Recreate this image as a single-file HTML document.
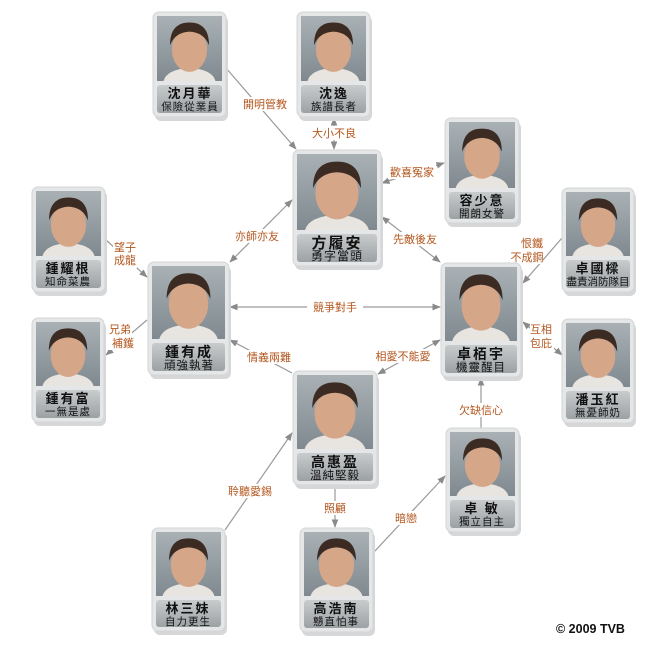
<!DOCTYPE html>
<html><head><meta charset="utf-8"><style>
html,body{margin:0;padding:0;background:#fff;}
svg{display:block;}
text{font-family:"Liberation Sans","Noto Sans CJK TC",sans-serif;}
.n{font-size:13px;font-weight:bold;fill:#111;text-anchor:middle;letter-spacing:2px}
.s{font-size:10.5px;fill:#111;text-anchor:middle;letter-spacing:1px}
.l{font-size:11px;fill:#b4561e;text-anchor:middle}
.ln{stroke:#9a9a9a;stroke-width:1.2;fill:none}
</style></head><body>
<svg width="665" height="650" viewBox="0 0 665 650" xmlns="http://www.w3.org/2000/svg">
<defs>
<marker id="a" viewBox="0 0 10 10" refX="9" refY="5" markerWidth="7" markerHeight="7" orient="auto-start-reverse"><path d="M0,1 L10,5 L0,9 z" fill="#8a8a8a"/></marker>
<linearGradient id="ng" x1="0" y1="0" x2="0" y2="1"><stop offset="0" stop-color="#c9cccd"/><stop offset="1" stop-color="#9ca1a4"/></linearGradient>
<linearGradient id="bg" x1="0" y1="0" x2="0" y2="1"><stop offset="0" stop-color="#a9b1b5"/><stop offset="1" stop-color="#7f898f"/></linearGradient>
<symbol id="ph" viewBox="0 0 100 100" preserveAspectRatio="none">
<rect width="100" height="100" fill="url(#bg)"/>
<path d="M10,100 Q15,82 50,80 Q85,82 90,100z" fill="#e8e4df"/>
<ellipse cx="50" cy="52" rx="27" ry="34" fill="#d6a689"/>
<path d="M20,45 Q20,10 50,10 Q80,10 80,45 Q72,25 50,24 Q28,25 20,45z" fill="#3b2b22"/>
</symbol>
</defs>

<!-- connectors -->
<line class="ln" x1="226" y1="68" x2="296" y2="149" marker-end="url(#a)"/>
<line class="ln" x1="334" y1="118" x2="334" y2="149" marker-start="url(#a)" marker-end="url(#a)"/>
<line class="ln" x1="382" y1="183" x2="444" y2="163" marker-start="url(#a)" marker-end="url(#a)"/>
<line class="ln" x1="382" y1="217" x2="440" y2="262" marker-start="url(#a)" marker-end="url(#a)"/>
<line class="ln" x1="292" y1="200" x2="230" y2="262" marker-start="url(#a)" marker-end="url(#a)"/>
<line class="ln" x1="106" y1="240" x2="147" y2="277" marker-end="url(#a)"/>
<line class="ln" x1="147" y1="320" x2="106" y2="355" marker-end="url(#a)"/>
<line class="ln" x1="230" y1="307" x2="440" y2="307" marker-start="url(#a)" marker-end="url(#a)"/>
<line class="ln" x1="562" y1="238" x2="523" y2="283" marker-end="url(#a)"/>
<line class="ln" x1="523" y1="322" x2="562" y2="355" marker-start="url(#a)" marker-end="url(#a)"/>
<line class="ln" x1="292" y1="373" x2="230" y2="340" marker-end="url(#a)"/>
<line class="ln" x1="378" y1="374" x2="440" y2="340" marker-start="url(#a)" marker-end="url(#a)"/>
<line class="ln" x1="481" y1="428" x2="481" y2="378" marker-end="url(#a)"/>
<line class="ln" x1="225" y1="530" x2="292" y2="433" marker-end="url(#a)"/>
<line class="ln" x1="335" y1="486" x2="335" y2="527" marker-end="url(#a)"/>
<line class="ln" x1="374" y1="552" x2="445" y2="476" marker-end="url(#a)"/>

<!-- labels -->
<g>
<rect x="240" y="97" width="50" height="14" fill="#fff"/><text class="l" x="265" y="108">開明管教</text>
<rect x="310" y="126" width="48" height="14" fill="#fff"/><text class="l" x="334" y="137">大小不良</text>
<rect x="388" y="165" width="48" height="14" fill="#fff"/><text class="l" x="412" y="176">歡喜冤家</text>
<rect x="391" y="232" width="48" height="14" fill="#fff"/><text class="l" x="415" y="243">先敵後友</text>
<rect x="233" y="229" width="48" height="14" fill="#fff"/><text class="l" x="257" y="240">亦師亦友</text>
<rect x="113" y="240" width="24" height="28" fill="#fff"/><text class="l" x="125" y="251">望子</text><text class="l" x="125" y="264">成龍</text>
<rect x="108" y="322" width="24" height="28" fill="#fff"/><text class="l" x="120" y="333">兄弟</text><text class="l" x="123" y="347">補鑊</text>
<rect x="307" y="300" width="56" height="14" fill="#fff"/><text class="l" x="335" y="311">競爭對手</text>
<rect x="519" y="236" width="24" height="28" fill="#fff"/><text class="l" x="532" y="247">恨鐵</text><text class="l" x="527" y="261">不成鋼</text>
<rect x="530" y="323" width="24" height="28" fill="#fff"/><text class="l" x="541" y="333">互相</text><text class="l" x="541" y="347">包庇</text>
<rect x="245" y="350" width="48" height="14" fill="#fff"/><text class="l" x="269" y="361">情義兩難</text>
<rect x="377" y="349" width="56" height="14" fill="#fff"/><text class="l" x="403" y="360">相愛不能愛</text>
<rect x="458" y="403" width="48" height="14" fill="#fff"/><text class="l" x="481" y="414">欠缺信心</text>
<rect x="226" y="484" width="48" height="14" fill="#fff"/><text class="l" x="250" y="495">聆聽愛錫</text>
<rect x="321" y="501" width="28" height="14" fill="#fff"/><text class="l" x="335" y="512">照顧</text>
<rect x="393" y="511" width="28" height="14" fill="#fff"/><text class="l" x="406" y="522">暗戀</text>
</g>

<!-- cards -->
<g>
<!-- 1 -->
<rect x="155" y="16" width="73" height="105" rx="6" fill="#d5d7d8"/>
<rect x="153" y="12" width="73" height="105" rx="6" fill="#e4e6e7" stroke="#d3d5d6"/>
<use href="#ph" x="157" y="16" width="65" height="65"/>
<rect x="157" y="85" width="65" height="28" rx="3" fill="url(#ng)"/>
<text class="n" x="190" y="98">沈月華</text><text class="s" x="190" y="110">保險從業員</text>
<!-- 2 -->
<rect x="299" y="16" width="73" height="105" rx="6" fill="#d5d7d8"/>
<rect x="297" y="12" width="73" height="105" rx="6" fill="#e4e6e7" stroke="#d3d5d6"/>
<use href="#ph" x="301" y="16" width="65" height="65"/>
<rect x="301" y="85" width="65" height="28" rx="3" fill="url(#ng)"/>
<text class="n" x="334" y="98">沈逸</text><text class="s" x="334" y="110">族譜長者</text>
<!-- 3 -->
<rect x="295" y="154" width="88" height="116" rx="6" fill="#d5d7d8"/>
<rect x="293" y="150" width="88" height="116" rx="6" fill="#e4e6e7" stroke="#d3d5d6"/>
<use href="#ph" x="297" y="154" width="80" height="76"/>
<rect x="297" y="234" width="80" height="28" rx="3" fill="url(#ng)"/>
<text class="n" x="337" y="248" style="font-size:15px">方履安</text><text class="s" x="337" y="260" style="font-size:12px">勇字當頭</text>
<!-- 4 -->
<rect x="447" y="122" width="74" height="105" rx="6" fill="#d5d7d8"/>
<rect x="445" y="118" width="74" height="105" rx="6" fill="#e4e6e7" stroke="#d3d5d6"/>
<use href="#ph" x="449" y="122" width="66" height="66"/>
<rect x="449" y="192" width="66" height="27" rx="3" fill="url(#ng)"/>
<text class="n" x="482" y="205">容少意</text><text class="s" x="482" y="217">開朗女警</text>
<!-- 5 -->
<rect x="34" y="191" width="73" height="105" rx="6" fill="#d5d7d8"/>
<rect x="32" y="187" width="73" height="105" rx="6" fill="#e4e6e7" stroke="#d3d5d6"/>
<use href="#ph" x="36" y="191" width="65" height="65"/>
<rect x="36" y="260" width="65" height="28" rx="3" fill="url(#ng)"/>
<text class="n" x="68" y="273">鍾耀根</text><text class="s" x="68" y="285">知命菜農</text>
<!-- 6 -->
<rect x="564" y="192" width="72" height="104" rx="6" fill="#d5d7d8"/>
<rect x="562" y="188" width="72" height="104" rx="6" fill="#e4e6e7" stroke="#d3d5d6"/>
<use href="#ph" x="566" y="192" width="64" height="64"/>
<rect x="566" y="260" width="64" height="28" rx="3" fill="url(#ng)"/>
<text class="n" x="598" y="273">卓國樑</text><text class="s" x="598" y="285" style="letter-spacing:0">盡責消防隊目</text>
<!-- 7 -->
<rect x="150" y="266" width="81" height="113" rx="6" fill="#d5d7d8"/>
<rect x="148" y="262" width="81" height="113" rx="6" fill="#e4e6e7" stroke="#d3d5d6"/>
<use href="#ph" x="152" y="266" width="73" height="73"/>
<rect x="152" y="343" width="73" height="28" rx="3" fill="url(#ng)"/>
<text class="n" x="189" y="357" style="font-size:14px">鍾有成</text><text class="s" x="189" y="369" style="font-size:11.5px">頑強執著</text>
<!-- 8 -->
<rect x="443" y="267" width="80" height="114" rx="6" fill="#d5d7d8"/>
<rect x="441" y="263" width="80" height="114" rx="6" fill="#e4e6e7" stroke="#d3d5d6"/>
<use href="#ph" x="445" y="267" width="72" height="74"/>
<rect x="445" y="345" width="72" height="28" rx="3" fill="url(#ng)"/>
<text class="n" x="481" y="359" style="font-size:14px">卓栢宇</text><text class="s" x="481" y="371" style="font-size:11.5px">機靈醒目</text>
<!-- 9 -->
<rect x="34" y="322" width="72" height="104" rx="6" fill="#d5d7d8"/>
<rect x="32" y="318" width="72" height="104" rx="6" fill="#e4e6e7" stroke="#d3d5d6"/>
<use href="#ph" x="36" y="322" width="64" height="64"/>
<rect x="36" y="390" width="64" height="28" rx="3" fill="url(#ng)"/>
<text class="n" x="68" y="403">鍾有富</text><text class="s" x="68" y="415">一無是處</text>
<!-- 10 -->
<rect x="564" y="323" width="72" height="104" rx="6" fill="#d5d7d8"/>
<rect x="562" y="319" width="72" height="104" rx="6" fill="#e4e6e7" stroke="#d3d5d6"/>
<use href="#ph" x="566" y="323" width="64" height="64"/>
<rect x="566" y="391" width="64" height="28" rx="3" fill="url(#ng)"/>
<text class="n" x="598" y="404">潘玉紅</text><text class="s" x="598" y="416">無憂師奶</text>
<!-- 11 -->
<rect x="295" y="375" width="84" height="114" rx="6" fill="#d5d7d8"/>
<rect x="293" y="371" width="84" height="114" rx="6" fill="#e4e6e7" stroke="#d3d5d6"/>
<use href="#ph" x="297" y="375" width="76" height="74"/>
<rect x="297" y="453" width="76" height="28" rx="3" fill="url(#ng)"/>
<text class="n" x="335" y="467" style="font-size:14px">高惠盈</text><text class="s" x="335" y="479" style="font-size:11.5px">溫純堅毅</text>
<!-- 12 -->
<rect x="448" y="432" width="73" height="104" rx="6" fill="#d5d7d8"/>
<rect x="446" y="428" width="73" height="104" rx="6" fill="#e4e6e7" stroke="#d3d5d6"/>
<use href="#ph" x="450" y="432" width="65" height="64"/>
<rect x="450" y="500" width="65" height="28" rx="3" fill="url(#ng)"/>
<text class="n" x="482" y="513">卓 敏</text><text class="s" x="482" y="525">獨立自主</text>
<!-- 13 -->
<rect x="154" y="532" width="73" height="103" rx="6" fill="#d5d7d8"/>
<rect x="152" y="528" width="73" height="103" rx="6" fill="#e4e6e7" stroke="#d3d5d6"/>
<use href="#ph" x="156" y="532" width="65" height="64"/>
<rect x="156" y="600" width="65" height="27" rx="3" fill="url(#ng)"/>
<text class="n" x="188" y="613">林三妹</text><text class="s" x="188" y="625">自力更生</text>
<!-- 14 -->
<rect x="302" y="532" width="73" height="104" rx="6" fill="#d5d7d8"/>
<rect x="300" y="528" width="73" height="104" rx="6" fill="#e4e6e7" stroke="#d3d5d6"/>
<use href="#ph" x="304" y="532" width="65" height="64"/>
<rect x="304" y="600" width="65" height="28" rx="3" fill="url(#ng)"/>
<text class="n" x="336" y="613">高浩南</text><text class="s" x="336" y="625">戇直怕事</text>
</g>

<text x="556" y="633" style="font-size:12.5px;font-weight:bold;fill:#111">© 2009 TVB</text>
</svg>
</body></html>
